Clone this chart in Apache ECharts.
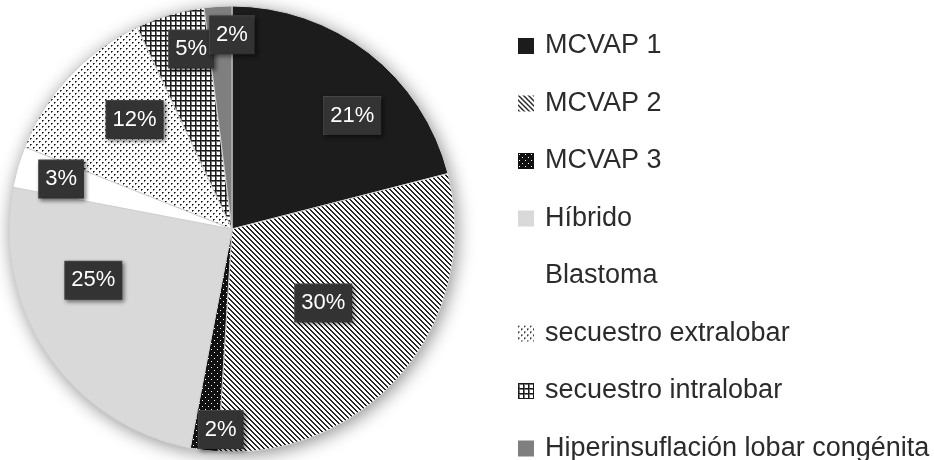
<!DOCTYPE html>
<html><head><meta charset="utf-8">
<script src="https://cdn.jsdelivr.net/npm/echarts@6/dist/echarts.min.js"></script>
<style>html,body{margin:0;padding:0;background:#fff}#c{width:934px;height:460px}</style>
</head><body><div id="c"></div>
<script>
const categories = ['MCVAP 1','MCVAP 2','MCVAP 3','Híbrido','Blastoma','secuestro extralobar','secuestro intralobar','Hiperinsuflación lobar congénita'];
const percentages = [21, 30, 2, 25, 3, 12, 5, 2];

// styling only: label nudges relative to the library's "inside" label position
const labelNudges = [[50,-23],[3,1],[3,87],[-44,-13],[-61,-18],[-14,-31],[-9,-70],[7,-80]];

function pixels(size, bg, fg, test){
  const c = document.createElement('canvas'); c.width = c.height = size;
  const ctx = c.getContext('2d');
  ctx.fillStyle = bg; ctx.fillRect(0,0,size,size);
  for (let y=0;y<size;y++) for (let x=0;x<size;x++){
    const v = test(x,y); if (v){ ctx.fillStyle = v===true?fg:v; ctx.fillRect(x,y,1,1); }
  }
  return c;
}
const fills = [
  '#1c1c1c',
  {image: pixels(5,'#ffffff','#262626',(x,y)=>((x-y+10)%5)<2), repeat:'repeat'},
  {image: pixels(6,'#111111','#ffffff',(x,y)=>(x==1&&y==1)||(x==4&&y==4)), repeat:'repeat'},
  '#d9d9d9',
  '#ffffff',
  {image: pixels(6,'#ffffff','#111111',(x,y)=>((x==0&&y==0)||(x==3&&y==3))?true:((x==1&&y==0)||(x==4&&y==3)||(x==0&&y==1)||(x==3&&y==4))?'#666666':false), repeat:'repeat'},
  {image: pixels(5,'#ffffff','#1a1a1a',(x,y)=>(x==0||y==0)?true:(x==1||y==1)?'#777777':false), repeat:'repeat'},
  '#7f7f7f'
];

const pieData = categories.map((n,i)=>({name:n, value:percentages[i], itemStyle:{color:fills[i]}}));
const baseData = categories.map((n,i)=>({name:n, value:percentages[i]}));

const chart = echarts.init(document.getElementById('c'), null, {renderer:'canvas'});
chart.setOption({
  animation:false,
  backgroundColor:'#ffffff',
  legend:{
    orient:'vertical', left:513, top:27, height:440, icon:'rect', itemWidth:16, itemHeight:16, itemGap:29.5,
    selectedMode:false, data:categories,
    itemStyle:{borderWidth:0},
    textStyle:{fontSize:27, color:'#2b2b2b', fontFamily:'Liberation Sans, Arial, sans-serif', lineHeight:28, padding:[0,0,0,6]}
  },
  series:[
    {
      type:'pie', name:'main', radius:223, center:[232,229], startAngle:90, clockwise:true, z:3,
      data:pieData,
      itemStyle:{borderColor:'#d0d0d0', borderWidth:1},
      label:{
        position:'inside', formatter:p=>Math.round(p.percent)+'%',
        color:'#ffffff', fontSize:22, fontWeight:500, fontFamily:'Liberation Sans, Arial, sans-serif',
        backgroundColor:'#333333', borderColor:'#4a4a4a', borderWidth:1, padding:[8,6,7,6],
        shadowBlur:4, shadowColor:'rgba(0,0,0,0.45)', shadowOffsetX:2, shadowOffsetY:2
      },
      labelLayout:p=>({dx:labelNudges[p.dataIndex][0], dy:labelNudges[p.dataIndex][1]}),
      labelLine:{show:false}, emphasis:{disabled:true}
    },
    {
      type:'pie', name:'shadow', radius:223, center:[232,229], startAngle:90, clockwise:true, z:1, silent:true,
      data:baseData,
      itemStyle:{color:'#ffffff', shadowBlur:18, shadowColor:'rgba(0,0,0,0.45)', shadowOffsetX:2, shadowOffsetY:3},
      label:{show:false}, labelLine:{show:false}, emphasis:{disabled:true}
    }
  ]
});
</script>
</body></html>
